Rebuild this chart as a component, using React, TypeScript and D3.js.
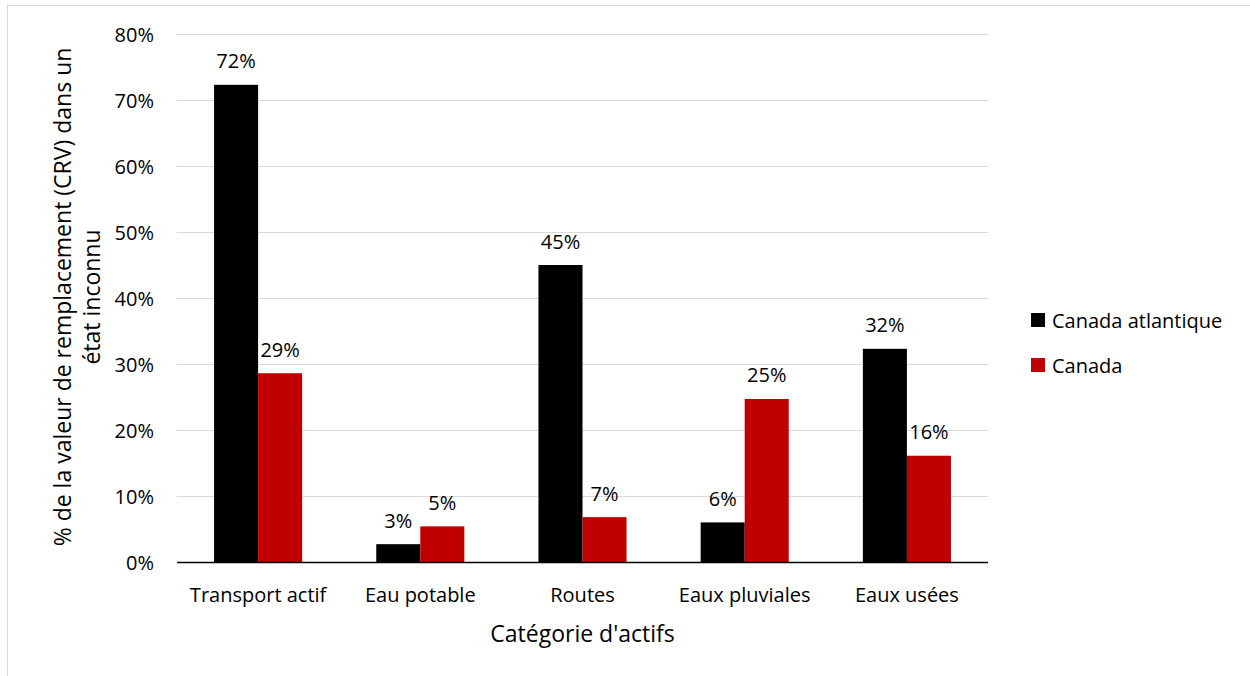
import React from "react";
import * as d3 from "d3";

// Asset categories and the share (%) of replacement value in unknown condition
const categories = ["Transport actif", "Eau potable", "Routes", "Eaux pluviales", "Eaux usées"];
const atlanticValues = [72.3, 2.7, 45.0, 6.0, 32.3];
const canadaValues = [28.6, 5.4, 6.8, 24.7, 16.1];
const seriesNames = ["Canada atlantique", "Canada"];
const seriesColors = ["#000000", "#c00000"];
const yTicks = [0, 10, 20, 30, 40, 50, 60, 70, 80];

const W = 1250;
const H = 676;
const plot = { left: 177, right: 988, top: 34, bottom: 562 };
const FONT = "'Open Sans', 'Noto Sans', 'Liberation Sans', sans-serif";
const LABEL_SIZE = 20;
const TITLE_SIZE = 23;

export default function App() {
  const x = d3
    .scaleBand<string>()
    .domain(categories)
    .range([plot.left, plot.right])
    .paddingInner(0.457)
    .paddingOuter(0.2285);
  const inner = d3
    .scaleBand<string>()
    .domain(seriesNames)
    .range([0, x.bandwidth()]);
  const y = d3.scaleLinear().domain([0, 80]).range([plot.bottom, plot.top]);

  const series = [atlanticValues, canadaValues];

  return (
    <svg
      width={W}
      height={H}
      style={{ position: "absolute", left: 0, top: 0, background: "#fff" }}
      fontFamily={FONT}
    >
      <rect x={7.5} y={5.5} width={W} height={H} fill="#fff" stroke="#d9d9d9" strokeWidth={1} />

      {/* gridlines */}
      {yTicks.slice(1).map((t) => (
        <line
          key={t}
          x1={plot.left}
          x2={plot.right}
          y1={y(t) + 0.5}
          y2={y(t) + 0.5}
          stroke="#d9d9d9"
          strokeWidth={1}
        />
      ))}

      {/* y tick labels */}
      {yTicks.map((t) => (
        <text
          key={t}
          x={154}
          y={y(t)}
          textAnchor="end"
          dominantBaseline="central"
          fontSize={LABEL_SIZE}
          fill="#000"
        >
          {t}%
        </text>
      ))}

      {/* bars and value labels */}
      {series.map((vals, si) =>
        categories.map((c, ci) => {
          const bx = (x(c) ?? 0) + (inner(seriesNames[si]) ?? 0);
          const bw = inner.bandwidth();
          const v = vals[ci];
          return (
            <g key={`${si}-${ci}`}>
              <rect x={bx} y={y(v)} width={bw} height={plot.bottom - y(v)} fill={seriesColors[si]} />
              <text
                x={bx + bw / 2}
                y={y(v) - 24}
                textAnchor="middle"
                dominantBaseline="central"
                fontSize={LABEL_SIZE}
                fill="#000"
              >
                {Math.round(v)}%
              </text>
            </g>
          );
        })
      )}

      {/* baseline axis */}
      <line x1={plot.left} x2={plot.right} y1={plot.bottom + 0.5} y2={plot.bottom + 0.5} stroke="#000" strokeWidth={1.5} />

      {/* category labels */}
      {categories.map((c) => (
        <text
          key={c}
          x={(x(c) ?? 0) + x.bandwidth() / 2}
          y={594}
          textAnchor="middle"
          dominantBaseline="central"
          fontSize={LABEL_SIZE}
          fill="#000"
        >
          {c}
        </text>
      ))}

      {/* axis titles */}
      <text
        x={(plot.left + plot.right) / 2}
        y={633}
        textAnchor="middle"
        dominantBaseline="central"
        fontSize={TITLE_SIZE}
        fill="#000"
      >
        Catégorie d'actifs
      </text>
      <g transform="translate(0,297) rotate(-90)">
        <text x={0} y={62} textAnchor="middle" dominantBaseline="central" fontSize={TITLE_SIZE} fill="#000">
          % de la valeur de remplacement (CRV) dans un
        </text>
        <text x={0} y={91} textAnchor="middle" dominantBaseline="central" fontSize={TITLE_SIZE} fill="#000">
          état inconnu
        </text>
      </g>

      {/* legend */}
      {seriesNames.map((n, i) => (
        <g key={n} transform={`translate(1031,${313 + i * 45})`}>
          <rect x={0} y={0} width={14} height={14} fill={seriesColors[i]} />
          <text x={21} y={7} dominantBaseline="central" fontSize={LABEL_SIZE} fill="#000">
            {n}
          </text>
        </g>
      ))}
    </svg>
  );
}
